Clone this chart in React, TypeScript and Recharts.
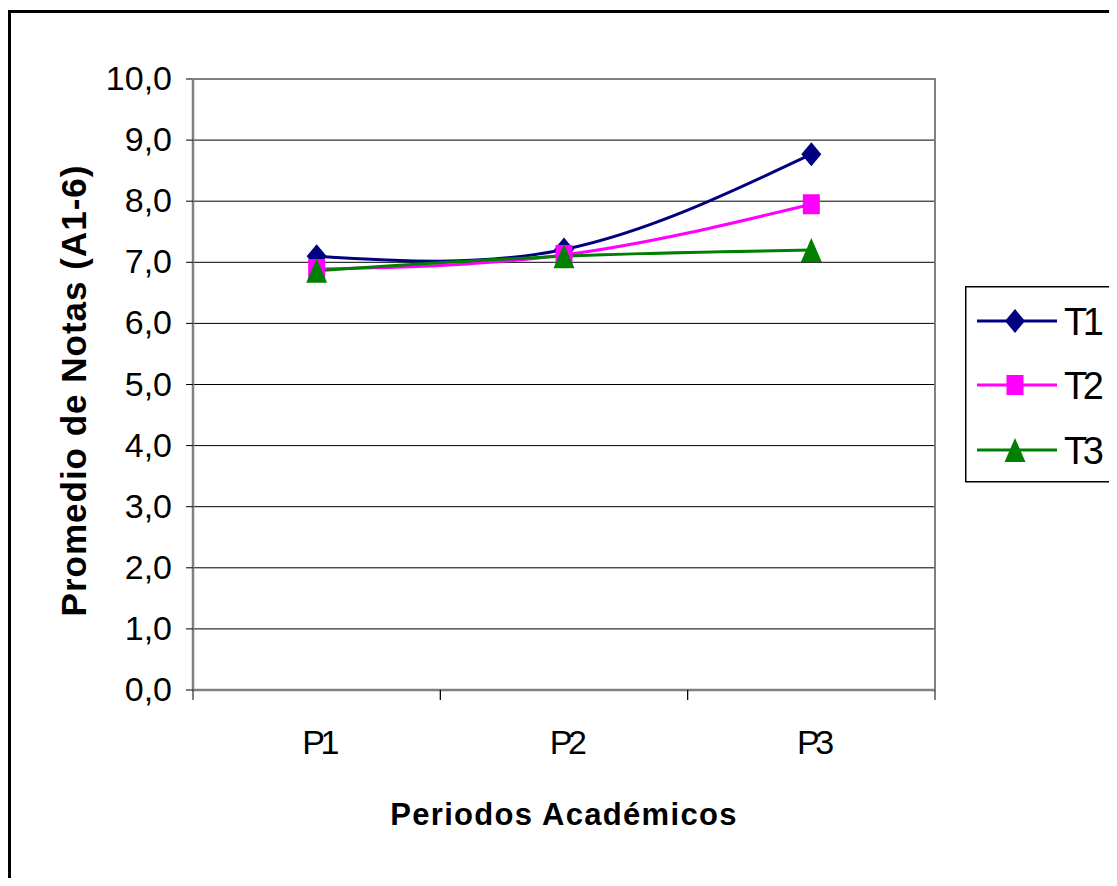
import React from "react";
import { LineChart, Line, XAxis, YAxis, CartesianGrid, Legend, Label } from "recharts";

// values
const periods = ["P1", "P2", "P3"];
const t1 = [7.1, 7.21, 8.77];
const t2 = [6.89, 7.12, 7.95];
const t3 = [6.86, 7.1, 7.2];
const yTicks = [0, 1, 2, 3, 4, 5, 6, 7, 8, 9, 10];

const seriesNames = ["T1", "T2", "T3"];
const seriesColors = ["#000080", "#FF00FF", "#008000"];
const seriesMarkers = ["diamond", "square", "triangle"];

const data = periods.map((p, i) => ({ period: p, T1: t1[i], T2: t2[i], T3: t3[i] }));

const W = 1117;
const H = 886;
const PLOT_LEFT = 193;
const PLOT_RIGHT = 935;
const PLOT_TOP = 79;
const PLOT_BOTTOM = 690;
const Y_AXIS_W = 100;
const X_AXIS_H = 100;
const HALF_BAND = (PLOT_RIGHT - PLOT_LEFT) / periods.length / 2;
const FONT = "'Liberation Sans', Arial, sans-serif";

function Marker({ kind, cx, cy, color }: { kind: string; cx: number; cy: number; color: string }) {
  if (kind === "diamond") {
    return (
      <polygon
        points={`${cx},${cy - 12} ${cx + 10},${cy} ${cx},${cy + 12} ${cx - 10},${cy}`}
        fill={color}
      />
    );
  }
  if (kind === "square") {
    return <rect x={cx - 8.5} y={cy - 10} width={17} height={20} fill={color} />;
  }
  return (
    <polygon
      points={`${cx},${cy - 12} ${cx + 10.5},${cy + 12} ${cx - 10.5},${cy + 12}`}
      fill={color}
    />
  );
}

const YTick = (props: any) => {
  const { x, y, payload } = props;
  return (
    <text x={x} y={y} dy={11} textAnchor="end" fontSize={34} fontFamily={FONT} fill="#000">
      {Number(payload.value).toFixed(1).replace(".", ",")}
    </text>
  );
};

const XTick = (props: any) => {
  const { x, y, payload } = props;
  return (
    <g>
      <line x1={x - HALF_BAND} x2={x - HALF_BAND} y1={y} y2={y + 10} stroke="#000" />
      <line x1={x + HALF_BAND} x2={x + HALF_BAND} y1={y} y2={y + 10} stroke="#000" />
      <text
        x={x + 2}
        y={y + 64}
        textAnchor="middle"
        fontSize={34}
        letterSpacing={-4.5}
        fontFamily={FONT}
        fill="#000"
      >
        {payload.value}
      </text>
    </g>
  );
};

const renderLegend = () => (
  <svg width={146} height={197}>
    <rect x={0.75} y={0.75} width={144} height={195} fill="#fff" stroke="#000" strokeWidth={1.5} />
    {seriesNames.map((name, i) => {
      const rowY = [35, 99, 164][i];
      return (
        <g key={name}>
          <line x1={12} x2={92} y1={rowY} y2={rowY} stroke={seriesColors[i]} strokeWidth={3} />
          <Marker kind={seriesMarkers[i]} cx={50} cy={rowY} color={seriesColors[i]} />
          <text
            x={99}
            y={rowY + 14}
            fontSize={38}
            letterSpacing={-4.5}
            fontFamily={FONT}
            fill="#000"
          >
            {name}
          </text>
        </g>
      );
    })}
  </svg>
);

export default function App() {
  return (
    <div
      style={{
        position: "relative",
        margin: -8,
        width: W,
        height: H,
        overflow: "hidden",
        background: "#fff",
      }}
    >
      <div
        style={{
          position: "absolute",
          left: 8,
          top: 10,
          width: 1200,
          height: 1000,
          border: "3px solid #000",
        }}
      />
      <div style={{ position: "absolute", left: 0, top: 0 }}>
        <LineChart
          width={W}
          height={H}
          data={data}
          margin={{
            top: PLOT_TOP,
            left: PLOT_LEFT - Y_AXIS_W,
            right: W - PLOT_RIGHT,
            bottom: H - PLOT_BOTTOM - X_AXIS_H,
          }}
        >
          <CartesianGrid vertical={false} stroke="#000" strokeWidth={1} />
          <XAxis
            dataKey="period"
            height={X_AXIS_H}
            padding={{ left: HALF_BAND, right: HALF_BAND }}
            axisLine={{ stroke: "#808080", strokeWidth: 2.5 }}
            tickLine={false}
            tickSize={0}
            tickMargin={0}
            tick={XTick}
            interval={0}
          >
            <Label
              content={(p: any) => {
                const vb = p.viewBox || {};
                return (
                  <text
                    x={vb.x + vb.width / 2}
                    y={PLOT_BOTTOM + 135}
                    textAnchor="middle"
                    fontSize={31}
                    fontWeight="bold"
                    letterSpacing={1.3}
                    fontFamily={FONT}
                    fill="#000"
                  >
                    Periodos Académicos
                  </text>
                );
              }}
            />
          </XAxis>
          <YAxis
            width={Y_AXIS_W}
            domain={[0, 10]}
            ticks={yTicks}
            interval={0}
            axisLine={{ stroke: "#808080", strokeWidth: 2.5 }}
            tickLine={{ stroke: "#000" }}
            tickSize={7}
            tickMargin={14}
            tick={YTick}
          >
            <Label
              content={() => (
                <text
                  transform={`translate(86, ${(PLOT_TOP + PLOT_BOTTOM) / 2 + 6}) rotate(-90)`}
                  textAnchor="middle"
                  fontSize={35}
                  fontWeight="bold"
                  letterSpacing={1}
                  fontFamily={FONT}
                  fill="#000"
                >
                  Promedio de Notas (A1-6)
                </text>
              )}
            />
          </YAxis>
          <Legend
            layout="horizontal"
            align="center"
            verticalAlign="middle"
            content={renderLegend}
            wrapperStyle={{ left: 965, top: 286, width: 146, height: 197 }}
          />
          {seriesNames.map((name, i) => (
            <Line
              key={name}
              dataKey={name}
              type="natural"
              stroke={seriesColors[i]}
              strokeWidth={3}
              isAnimationActive={false}
              activeDot={false}
              dot={(p: any) => (
                <Marker
                  key={`${name}-${p.index}`}
                  kind={seriesMarkers[i]}
                  cx={p.cx}
                  cy={p.cy}
                  color={seriesColors[i]}
                />
              )}
            />
          ))}
        </LineChart>
      </div>
      <div
        style={{
          position: "absolute",
          left: PLOT_LEFT - 1,
          top: PLOT_TOP - 1,
          width: PLOT_RIGHT - PLOT_LEFT + 2,
          height: PLOT_BOTTOM - PLOT_TOP + 1,
          boxSizing: "border-box",
          borderTop: "2.5px solid #808080",
          borderRight: "2.5px solid #808080",
          pointerEvents: "none",
        }}
      />
    </div>
  );
}
